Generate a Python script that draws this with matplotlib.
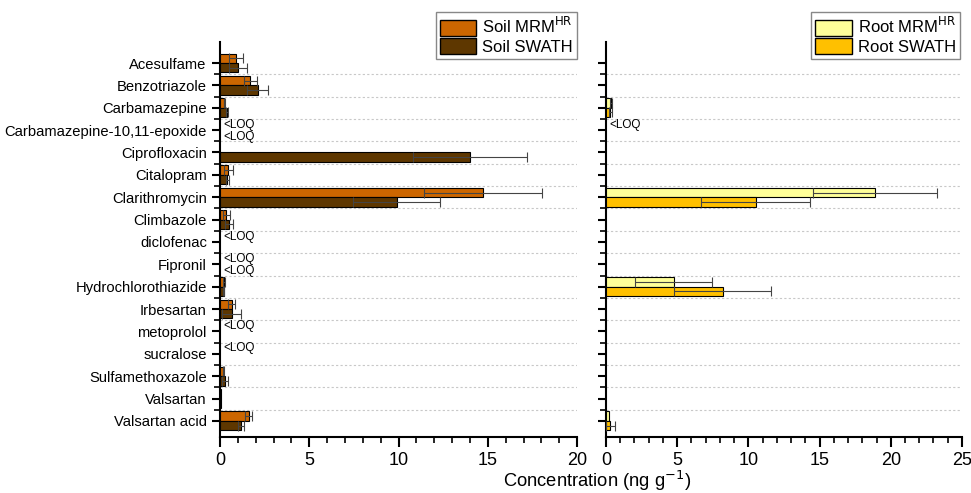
import numpy as np
import matplotlib
matplotlib.use("Agg")
import matplotlib.pyplot as plt
from matplotlib.patches import Patch
from matplotlib.ticker import MultipleLocator, FixedLocator

plt.rcParams["font.family"] = ["Liberation Sans", "DejaVu Sans"]

nan = np.nan
compounds = ["Acesulfame", "Benzotriazole", "Carbamazepine", "Carbamazepine-10,11-epoxide",
             "Ciprofloxacin", "Citalopram", "Clarithromycin", "Climbazole", "diclofenac",
             "Fipronil", "Hydrochlorothiazide", "Irbesartan", "metoprolol", "sucralose",
             "Sulfamethoxazole", "Valsartan", "Valsartan acid"]

soil_mrm = [0.9, 1.7, 0.25, nan, nan, 0.47, 14.75, 0.34, nan, nan, 0.22, 0.65, nan, nan, 0.19, 0.08, 1.6]
soil_mrm_err = [0.4, 0.35, 0.05, 0, 0, 0.25, 3.3, 0.2, 0, 0, 0.05, 0.2, 0, 0, 0.03, 0, 0.2]
soil_swath = [1.0, 2.1, 0.37, nan, 14.0, 0.41, 9.9, 0.52, nan, nan, 0.2, 0.65, nan, nan, 0.28, 0.05, 1.18]
soil_swath_err = [0.5, 0.6, 0.05, 0, 3.2, 0.1, 2.45, 0.22, 0, 0, 0.05, 0.55, 0, 0, 0.15, 0, 0.18]
soil_mrm_loq = ["Carbamazepine-10,11-epoxide", "diclofenac", "Fipronil", "metoprolol", "sucralose"]
soil_swath_loq = ["Carbamazepine-10,11-epoxide", "Fipronil"]

root_mrm = [nan, nan, 0.35, nan, nan, nan, 18.9, nan, nan, nan, 4.75, nan, nan, nan, nan, nan, 0.2]
root_mrm_err = [0, 0, 0.08, 0, 0, 0, 4.35, 0, 0, 0, 2.7, 0, 0, 0, 0, 0, 0]
root_swath = [nan, nan, 0.3, nan, nan, nan, 10.5, nan, nan, nan, 8.2, nan, nan, nan, nan, nan, 0.3]
root_swath_err = [0, 0, 0.1, 0, 0, 0, 3.8, 0, 0, 0, 3.4, 0, 0, 0, 0, 0, 0.3]
root_mrm_loq = ["Carbamazepine-10,11-epoxide"]
root_swath_loq = []

c_soil_mrm = "#CC6600"
c_soil_swath = "#5E3700"
c_root_mrm = "#FFFF99"
c_root_swath = "#FFC000"

fig = plt.figure(figsize=(9.71, 4.93), dpi=100)
ax1 = fig.add_axes([0.2266, 0.1136, 0.3677, 0.8012])
ax2 = fig.add_axes([0.6241, 0.1136, 0.3666, 0.8012])

y = np.arange(len(compounds))
h = 0.42


def panel(ax, mrm, mrm_err, swath, swath_err, mrm_loq, swath_loq, c1, c2, xmax, labels):
    ax.barh(y - h / 2, mrm, height=h, color=c1, edgecolor="black", linewidth=0.8, zorder=3)
    ax.barh(y + h / 2, swath, height=h, color=c2, edgecolor="black", linewidth=0.8, zorder=3)
    for vals, errs, off in [(mrm, mrm_err, -h / 2), (swath, swath_err, h / 2)]:
        v = np.array(vals, dtype=float)
        e = np.array(errs, dtype=float)
        m = ~np.isnan(v) & (e > 0)
        ax.errorbar(v[m], y[m] + off, xerr=e[m], fmt="none", ecolor="#444444",
                    elinewidth=0.8, capsize=3.5, capthick=0.8, zorder=4)
    # <LOQ notes, upper one for MRM, lower one for SWATH
    for name in mrm_loq:
        ax.text(0.2 * xmax / 20, compounds.index(name) - 0.24, "<LOQ", fontsize=8.5,
                va="center", ha="left")
    for name in swath_loq:
        ax.text(0.2 * xmax / 20, compounds.index(name) + 0.3, "<LOQ", fontsize=8.5,
                va="center", ha="left")
    ax.set_xlim(0, xmax)
    ax.set_ylim(16.72, -0.94)
    ax.set_yticks(y)
    if labels:
        ax.set_yticklabels(compounds, fontsize=10.6)
    else:
        ax.set_yticklabels([])
    ax.yaxis.set_minor_locator(FixedLocator(y[:-1] + 0.5))
    ax.xaxis.set_major_locator(MultipleLocator(5))
    ax.xaxis.set_minor_locator(MultipleLocator(1))
    ax.tick_params(axis="x", which="major", labelsize=13, length=7, width=1.5, direction="out")
    ax.tick_params(axis="x", which="minor", length=4, width=1.2, direction="out")
    ax.tick_params(axis="y", which="major", length=6, width=1.5, direction="out")
    ax.tick_params(axis="y", which="minor", length=4, width=1.2, direction="out")
    ax.grid(True, axis="y", which="minor", color="#c8c8c8", linestyle=(0, (2, 2)), linewidth=0.8)
    ax.set_axisbelow(True)
    for s in ["top", "right"]:
        ax.spines[s].set_visible(False)
    for s in ["left", "bottom"]:
        ax.spines[s].set_linewidth(1.5)


panel(ax1, soil_mrm, soil_mrm_err, soil_swath, soil_swath_err, soil_mrm_loq, soil_swath_loq,
      c_soil_mrm, c_soil_swath, 20, True)
panel(ax2, root_mrm, root_mrm_err, root_swath, root_swath_err, root_mrm_loq, root_swath_loq,
      c_root_mrm, c_root_swath, 25, False)

leg_kw = dict(loc="upper right", fontsize=12, fancybox=False, edgecolor="#888888",
              framealpha=1, handlelength=2.2, handleheight=1.1, borderpad=0.25,
              labelspacing=0.1, handletextpad=0.35, borderaxespad=0)
ax1.legend(handles=[Patch(facecolor=c_soil_mrm, edgecolor="black", label="Soil MRM$^{\\mathrm{HR}}$"),
                    Patch(facecolor=c_soil_swath, edgecolor="black", label="Soil SWATH")],
           bbox_to_anchor=(1.0, 1.076), **leg_kw)
ax2.legend(handles=[Patch(facecolor=c_root_mrm, edgecolor="black", label="Root MRM$^{\\mathrm{HR}}$"),
                    Patch(facecolor=c_root_swath, edgecolor="black", label="Root SWATH")],
           bbox_to_anchor=(0.995, 1.076), **leg_kw)

fig.text(0.615, 0.024, "Concentration (ng g$^{-1}$)", ha="center", va="center", fontsize=13.2)

fig.savefig("out.png", dpi=100)
